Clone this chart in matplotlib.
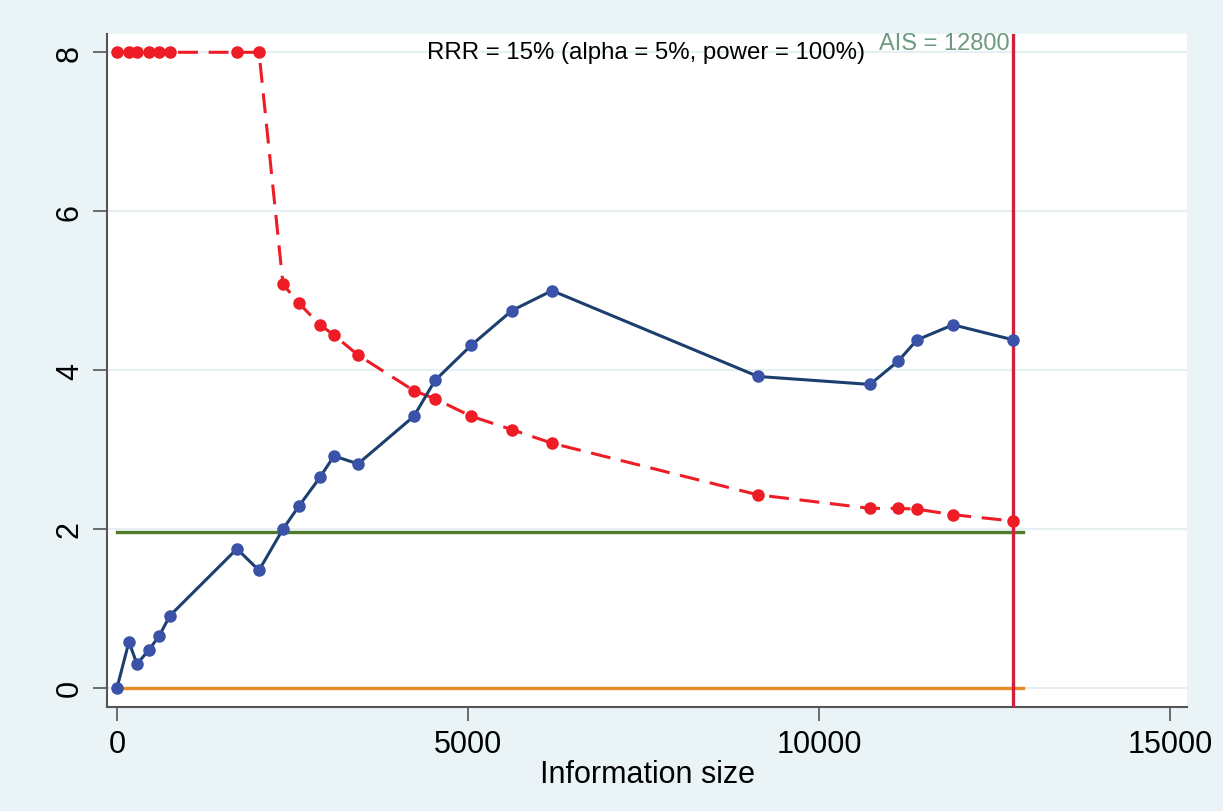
"""Trial sequential analysis style chart: cumulative Z-curve vs monitoring boundary."""
import matplotlib

matplotlib.use("Agg")
import matplotlib.pyplot as plt  # noqa: E402

plt.rcParams.update({"font.family": ["Liberation Sans", "DejaVu Sans"], "font.size": 16})

# Cumulative information size for each trial added
info_size = [0, 171, 285, 456, 598, 755, 1709, 2023, 2365, 2593, 2892, 3091, 3433,
             4231, 4530, 5043, 5627, 6197, 9131, 10726, 11125, 11396, 11909, 12770]
# Cumulative Z-score
z_curve = [0.0, 0.58, 0.30, 0.48, 0.65, 0.91, 1.75, 1.48, 2.00, 2.29, 2.65, 2.92, 2.82,
           3.42, 3.87, 4.31, 4.75, 5.00, 3.92, 3.82, 4.11, 4.38, 4.57, 4.38]
# Monitoring boundary
boundary = [8, 8, 8, 8, 8, 8, 8, 8, 5.08, 4.84, 4.57, 4.44, 4.19,
            3.74, 3.64, 3.42, 3.25, 3.08, 2.43, 2.26, 2.26, 2.25, 2.18, 2.10]

ais = 12800
ais_line = 12770
conv_z = 1.96
ref_end = 12900

BG = "#eaf3f6"
fig = plt.figure(figsize=(12.23, 8.12), dpi=100, facecolor=BG)
ax = fig.add_axes([107 / 1223, 1 - 708 / 812, (1187 - 107) / 1223, (708 - 35) / 812])
ax.set_facecolor("white")

ax.set_xlim(-142, 15242)
ax.set_ylim(-0.24, 8.23)

for y in [0, 2, 4, 6, 8]:
    ax.axhline(y, color="#e6f0f3", lw=1.5, zorder=0)

ax.plot([0, ref_end], [0, 0], color="#e8892a", lw=2.4, zorder=2)
ax.plot([0, ref_end], [conv_z, conv_z], color="#4f7a2c", lw=2.4, zorder=2)
ax.axvline(ais_line, color="#d21f3c", lw=2.4, zorder=3)

ax.plot(info_size, boundary, color="#ee1c24", lw=2.2, ls=(0, (6.5, 3.5)),
        marker="o", ms=8, zorder=4)
ax.plot(info_size, z_curve, color="#1c3f6e", lw=2.2, marker="o", ms=8,
        mfc="#3a52a8", mec="#3a52a8", zorder=5)

ax.text(ais_line - 60, 8.25, f"AIS = {ais}", color="#6d9a80", ha="right", va="top",
        fontsize=17)
ax.text(7535, 8.0, "RRR = 15% (alpha = 5%, power = 100%)", ha="center", va="center",
        fontsize=17.3)

ax.set_xticks([0, 5000, 10000, 15000])
ax.set_yticks([0, 2, 4, 6, 8])
for lab in ax.get_yticklabels():
    lab.set_rotation(90)
    lab.set_va("center")
ax.tick_params(axis="both", direction="out", length=10, width=1.2, color="#555555",
               labelsize=22, pad=6)
ax.set_xlabel("Information size", fontsize=22, labelpad=0)

for s in ["top", "right"]:
    ax.spines[s].set_visible(False)
for s in ["left", "bottom"]:
    ax.spines[s].set_color("#555555")
    ax.spines[s].set_linewidth(1.5)

fig.savefig("out.png", dpi=100, facecolor=BG)
